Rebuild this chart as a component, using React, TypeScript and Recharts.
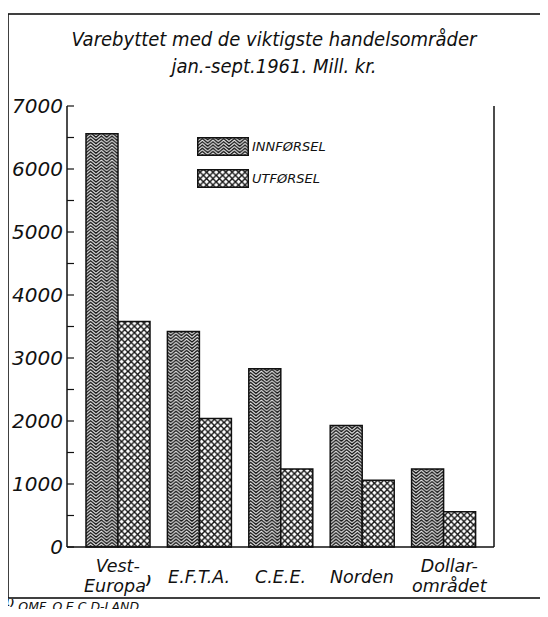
import React from 'react';
import { BarChart, Bar, XAxis, YAxis } from 'recharts';

const categories = ['Vest-|Europa', 'E.F.T.A.', 'C.E.E.', 'Norden', 'Dollar-|området'];
const innforsel = [6560, 3420, 2830, 1930, 1240];
const utforsel = [3580, 2040, 1240, 1060, 560];
const yTicks = [0, 500, 1000, 1500, 2000, 2500, 3000, 3500, 4000, 4500, 5000, 5500, 6000, 6500, 7000];

const data = categories.map((name, i) => ({ name, inn: innforsel[i], ut: utforsel[i] }));

const FONT = '"DejaVu Sans", sans-serif';
const FONT_C = '"DejaVu Sans Condensed", "DejaVu Sans", sans-serif';
const TW = 32 / 3; // zigzag tile width
const TH = 3.2; // zigzag line spacing
const AMP = 4.5; // zigzag amplitude

const LeftTick = (props: any) => {
  const { x, y, payload } = props;
  const major = payload.value % 1000 === 0;
  return (
    <g>
      <line x1={x} x2={x + 7} y1={y} y2={y} stroke="#111" strokeWidth={1.2} />
      {major && (
        <text x={x - 4} y={y + 7} textAnchor="end" fontSize={20} fontStyle="italic" fontFamily={FONT} fill="#111">
          {payload.value}
        </text>
      )}
    </g>
  );
};

const RightTick = (props: any) => {
  const { x, y, payload } = props;
  const major = payload.value % 1000 === 0;
  return (
    <g>
      <line x1={x} x2={x - 7} y1={y} y2={y} stroke="#111" strokeWidth={1.2} />
      {major && (
        <text x={x + 4} y={y + 7} textAnchor="start" fontSize={20} fontStyle="italic" fontFamily={FONT} fill="#111">
          {payload.value}
        </text>
      )}
    </g>
  );
};

const CatTick = (props: any) => {
  const { x, y, payload } = props;
  const lines = String(payload.value).split('|');
  const base = lines.length === 1 ? 36 : 25;
  const shift = lines[0] === 'Dollar-' ? 6 : 0;
  return (
    <g>
      {lines.map((l, i) => (
        <text key={i} x={x + shift} y={y + base + i * 20} textAnchor="middle" fontSize={17.5} fontStyle="italic" fontFamily={FONT} fill="#111">
          {l}
          {l === 'Europa' && <tspan fontSize={12} fontWeight="bold" dy={-7}>)</tspan>}
        </text>
      ))}
    </g>
  );
};

const LegendItem = ({ fill, label, top }: { fill: string; label: string; top: number }) => (
  <div style={{ position: 'absolute', left: 197, top, display: 'flex', alignItems: 'center' }}>
    <svg width={52} height={19}>
      <rect x={0.75} y={0.75} width={50.5} height={17.5} fill={fill} stroke="#111" strokeWidth={1.5} />
    </svg>
    <span style={{ marginLeft: 3, fontFamily: FONT, fontStyle: 'italic', fontSize: 13, color: '#111' }}>{label}</span>
  </div>
);

export default function App() {
  const zig = (dy: number) => `0,${AMP + dy} ${TW / 2},${dy} ${TW},${AMP + dy}`;
  return (
    <div style={{ position: 'relative', margin: -8, width: 548, height: 617, background: '#fff', overflow: 'hidden' }}>
      <svg width={548} height={617} style={{ position: 'absolute', left: 0, top: 0 }}>
        <rect x={8} y={14} width={536} height={584} fill="none" stroke="#111" strokeWidth={1.6} />
      </svg>
      <div style={{ position: 'absolute', left: 0, top: 26, width: 548, textAlign: 'center', fontFamily: FONT_C, fontStyle: 'italic', fontSize: 20, lineHeight: '27px', color: '#111' }}>
        Varebyttet med de viktigste handelsområder
        <br />
        jan.-sept.1961. Mill. kr.
      </div>
      <div style={{ position: 'absolute', left: 0, top: 0 }}>
        <BarChart width={548} height={617} data={data} margin={{ top: 106, right: 0, bottom: 10, left: 0 }} barCategoryGap={9} barGap={0}>
          <defs>
            <pattern id="zig" patternUnits="userSpaceOnUse" width={TW} height={TH}>
              <rect width={TW} height={TH} fill="#1a1a1a" />
              {[-2, -1, 0, 1].map((k) => (
                <polyline key={k} points={zig(k * TH)} fill="none" stroke="#fff" strokeWidth={1} />
              ))}
            </pattern>
            <pattern id="cross" patternUnits="userSpaceOnUse" width={6.4} height={6.4}>
              <rect width={6.4} height={6.4} fill="#fff" />
              <path d="M0,0 L6.4,6.4 M6.4,0 L0,6.4" stroke="#111" strokeWidth={1.4} />
            </pattern>
          </defs>
          <XAxis
            dataKey="name"
            height={60}
            interval={0}
            padding={{ left: 10, right: 10 }}
            tick={<CatTick />}
            tickLine={false}
            tickSize={0}
            tickMargin={0}
            stroke="#111"
            strokeWidth={1.5}
          />
          <YAxis
            yAxisId="left"
            orientation="left"
            width={67}
            domain={[0, 7000]}
            ticks={yTicks}
            interval={0}
            tickSize={0}
            tickMargin={0}
            tickLine={false}
            tick={<LeftTick />}
            stroke="#111"
            strokeWidth={1.5}
          />
          <YAxis
            yAxisId="right"
            orientation="right"
            width={54}
            domain={[0, 7000]}
            ticks={yTicks}
            interval={0}
            tickSize={0}
            tickMargin={0}
            tickLine={false}
            tick={<RightTick />}
            stroke="#111"
            strokeWidth={1.5}
          />
          <Bar yAxisId="left" dataKey="inn" barSize={32} fill="url(#zig)" stroke="#111" strokeWidth={1.5} isAnimationActive={false} />
          <Bar yAxisId="left" dataKey="ut" barSize={32} fill="url(#cross)" stroke="#111" strokeWidth={1.5} isAnimationActive={false} />
        </BarChart>
      </div>
      <LegendItem fill="url(#zig)" label="INNFØRSEL" top={137} />
      <LegendItem fill="url(#cross)" label="UTFØRSEL" top={169} />
      <div style={{ position: 'absolute', left: 4, top: 598, fontFamily: FONT, fontStyle: 'italic', fontSize: 12.5, color: '#111' }}>
        <sup style={{ fontSize: 9, fontWeight: 'bold' }}>1)</sup> OMF. O.E.C.D-LAND.
      </div>
    </div>
  );
}
